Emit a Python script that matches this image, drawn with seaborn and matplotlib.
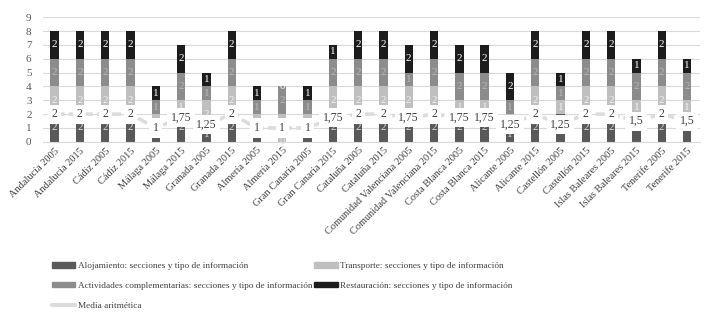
import numpy as np
import pandas as pd
import matplotlib
matplotlib.use("Agg")
import matplotlib.pyplot as plt
import seaborn as sns
from matplotlib.patches import Patch
from matplotlib.lines import Line2D

categories = ["Andalucía 2005", "Andalucía 2015", "Cádiz 2005", "Cádiz 2015",
              "Málaga 2005", "Málaga 2015", "Granada 2005", "Granada 2015",
              "Almería 2005", "Almería 2015", "Gran Canaria 2005", "Gran Canaria 2015",
              "Cataluña 2005", "Cataluña 2015", "Comunidad Valenciana 2005",
              "Comunidad Valenciana 2015", "Costa Blanca 2005", "Costa Blanca 2015",
              "Alicante 2005", "Alicante 2015", "Castellón 2005", "Castellón 2015",
              "Islas Baleares 2005", "Islas Baleares 2015", "Tenerife 2005", "Tenerife 2015"]
alojamiento  = [2, 2, 2, 2, 1, 2, 1, 2, 1, 0, 1, 2, 2, 2, 2, 2, 2, 2, 1, 2, 2, 2, 2, 2, 2, 2]
transporte   = [2, 2, 2, 2, 1, 1, 2, 2, 1, 2, 1, 2, 2, 2, 2, 2, 1, 1, 1, 2, 1, 2, 2, 1, 2, 1]
actividades  = [2, 2, 2, 2, 1, 2, 1, 2, 1, 2, 1, 2, 2, 2, 1, 2, 2, 2, 1, 2, 1, 2, 2, 2, 2, 2]
restauracion = [2, 2, 2, 2, 1, 2, 1, 2, 1, 0, 1, 1, 2, 2, 2, 2, 2, 2, 2, 2, 1, 2, 2, 1, 2, 1]
media        = [2, 2, 2, 2, 1, 1.75, 1.25, 2, 1, 1, 1, 1.75, 2, 2, 1.75, 2, 1.75, 1.75,
                1.25, 2, 1.25, 2, 2, 1.5, 2, 1.5]

series_names = ["Alojamiento: secciones y tipo de información",
                "Transporte: secciones y tipo de información",
                "Actividades complementarias: secciones y tipo de información",
                "Restauración: secciones y tipo de información"]
series_vals = [alojamiento, transporte, actividades, restauracion]
colors = ["#595959", "#bfbfbf", "#8c8c8c", "#1c1c1c"]
label_colors = ["#dedede", "#f2f2f2", "#b8b8b8", "#ffffff"]
mean_name = "Media aritmética"
mean_color = "#dcdcdc"

sns.set_style("white")
plt.rcParams["font.family"] = ["Liberation Serif", "DejaVu Serif"]

fig = plt.figure(figsize=(7.12, 3.18), dpi=100)
ax = fig.add_axes([0.060, 0.554, 0.923, 0.392])

df = pd.DataFrame({"cat": categories})
bottom = np.zeros(len(categories))
box_half = 0.6  # half-height of the mean label boxes, in data units
for name, vals, col, lc in zip(series_names, series_vals, colors, label_colors):
    df["v"] = vals
    sns.barplot(data=df, x="cat", y="v", color=col, width=0.33, bottom=bottom,
                ax=ax, saturation=1, linewidth=0, zorder=2)
    cont = ax.containers[-1]
    labels = []
    for b, v, m in zip(bottom, vals, media):
        c = b + v / 2
        # labels hidden behind the mean label box in the reference are left blank
        labels.append("" if abs(c - m) < box_half else f"{v:g}")
    ax.bar_label(cont, labels=labels, label_type="center", color=lc, fontsize=8, zorder=3)
    bottom = bottom + np.array(vals)

xs = np.arange(len(categories))
sns.lineplot(x=xs, y=media, ax=ax, color=mean_color, linewidth=2.6, sort=False,
             dashes=False, zorder=4)
ax.lines[-1].set_dashes([2.8, 1.1])
for x, m in zip(xs, media):
    ax.text(x, m, f"{m:g}".replace(".", ","), ha="center", va="center", fontsize=8.5,
            color="#404040", zorder=5,
            bbox=dict(boxstyle="square,pad=0.3", fc="white", ec="none"))

ax.set_ylim(0, 9)
ax.set_yticks(range(0, 10))
ax.set_xlim(-0.47, 25.51)
ax.grid(axis="y", color="#d9d9d9", linewidth=0.8, zorder=0)
ax.set_axisbelow(True)
for s in ["left", "right", "top"]:
    ax.spines[s].set_visible(False)
ax.spines["bottom"].set_color("#d9d9d9")
ax.set_xlabel("")
ax.set_ylabel("")
ax.set_xticks(xs)
ax.set_xticklabels(categories, rotation=45, ha="right", rotation_mode="anchor",
                   fontsize=7.5, color="#404040")
ax.tick_params(axis="x", length=0, pad=3)
ax.tick_params(axis="y", length=0, labelsize=8, labelcolor="#595959", pad=8)

handles = [Patch(color=colors[0]), Patch(color=colors[2]),
           Line2D([0], [0], color=mean_color, linewidth=3),
           Patch(color=colors[1]), Patch(color=colors[3])]
labels_leg = [series_names[0], series_names[2], mean_name, series_names[1], series_names[3]]
fig.legend(handles, labels_leg, ncol=2, loc="upper left", bbox_to_anchor=(0.073, 0.176),
           frameon=False, fontsize=6.7, labelcolor="#404040", handlelength=2.5,
           handleheight=0.55, handletextpad=0.25, columnspacing=0.25, labelspacing=1.25,
           borderaxespad=0, borderpad=0)

fig.savefig("out.png", dpi=100)
